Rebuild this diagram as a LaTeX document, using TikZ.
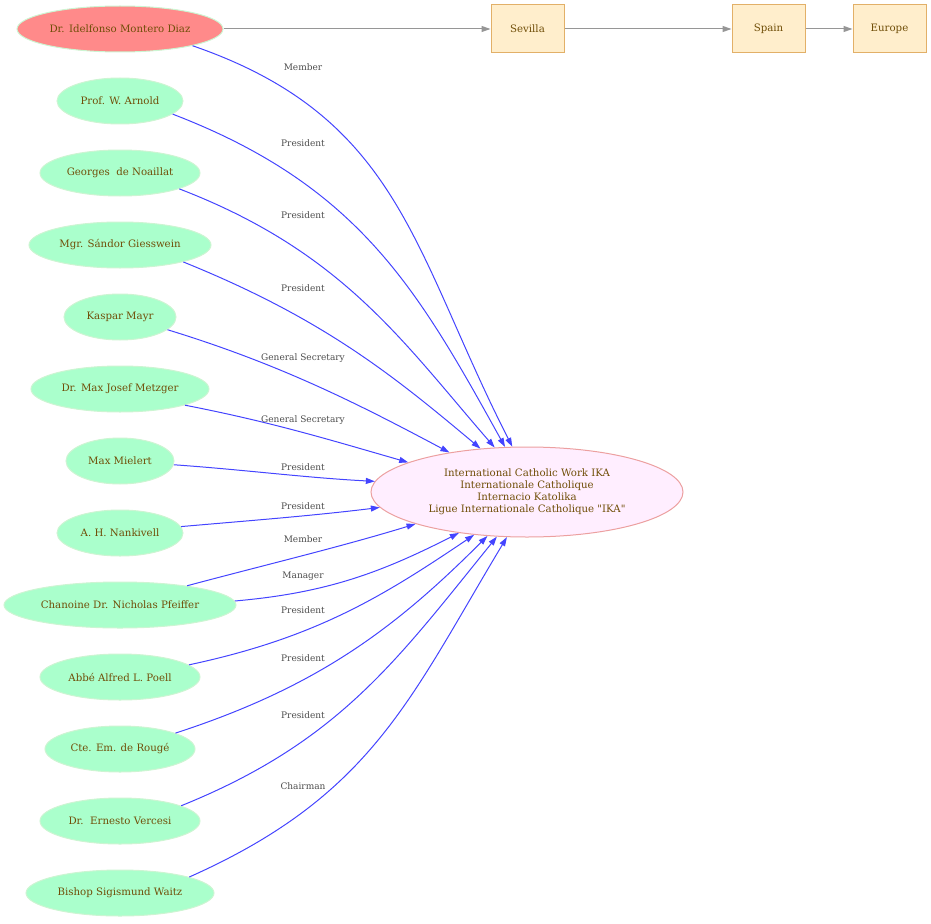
\documentclass[tikz,border=0pt]{standalone}
\usepackage{fontspec}
\setmainfont{DejaVu Serif}
\usepackage{tikz}
\usetikzlibrary{shapes,arrows.meta}
\definecolor{mint}{RGB}{170,255,204}
\definecolor{mintline}{RGB}{204,245,210}
\definecolor{salmon}{RGB}{255,138,138}
\definecolor{lilac}{RGB}{255,238,255}
\definecolor{lilacline}{RGB}{236,160,160}
\definecolor{cream}{RGB}{255,238,204}
\definecolor{creamline}{RGB}{226,176,104}
\definecolor{brown}{RGB}{112,78,8}
\definecolor{relblue}{RGB}{68,68,255}
\definecolor{geogray}{RGB}{150,150,150}
\tikzstyle{person}=[ellipse,draw=mintline,line width=1pt,fill=mint,text=brown,minimum height=46pt,inner sep=0pt,font=\fontsize{10.2}{12}\selectfont]
\tikzstyle{founder}=[person,fill=salmon]
\tikzstyle{org}=[ellipse,draw=lilacline,line width=1pt,fill=lilac,text=brown,minimum width=312pt,minimum height=90pt,inner sep=0pt,align=center,font=\fontsize{10.2}{12}\selectfont]
\tikzstyle{place}=[rectangle,draw=creamline,line width=1pt,fill=cream,text=brown,minimum width=73pt,minimum height=48pt,inner sep=0pt,font=\fontsize{10.2}{12}\selectfont]
\tikzstyle{rel}=[draw=relblue,line width=1pt,-{Triangle[length=9pt,width=6pt]}]
\tikzstyle{geo}=[draw=geogray,line width=1pt,-{Triangle[length=9pt,width=6pt]}]
\tikzstyle{lbl}=[text=black!70,inner sep=0pt,font=\fontsize{9}{10}\selectfont]

\begin{document}
\begin{tikzpicture}[x=1pt,y=-1pt]
    \useasboundingbox (0,0) rectangle (931,923);
    % people
    \node[founder,minimum width=206pt] (montero) at (120,29) {Dr. Idelfonso Montero Diaz};
    \node[person,minimum width=126pt] (arnold) at (120,101) {Prof. W. Arnold};
    \node[person,minimum width=160pt] (noaillat) at (120,173) {Georges\ \ de Noaillat};
    \node[person,minimum width=182pt] (giesswein) at (120,245) {Mgr. Sándor Giesswein};
    \node[person,minimum width=112pt] (mayr) at (120,317) {Kaspar Mayr};
    \node[person,minimum width=178pt] (metzger) at (120,389) {Dr. Max Josef Metzger};
    \node[person,minimum width=108pt] (mielert) at (120,461) {Max Mielert};
    \node[person,minimum width=126pt] (nankivell) at (120,533) {A. H. Nankivell};
    \node[person,minimum width=232pt] (pfeiffer) at (120,605) {Chanoine Dr. Nicholas Pfeiffer};
    \node[person,minimum width=160pt] (poell) at (120,677) {Abbé Alfred L. Poell};
    \node[person,minimum width=150pt] (rouge) at (120,749) {Cte. Em. de Rougé};
    \node[person,minimum width=160pt] (vercesi) at (120,821) {Dr.\ \ Ernesto Vercesi};
    \node[person,minimum width=188pt] (waitz) at (120,893) {Bishop Sigismund Waitz};
    % organisation
    \node[org] (ika) at (527,492) {International Catholic Work IKA\\Internationale Catholique\\Internacio Katolika\\Ligue Internationale Catholique \textquotedbl IKA\textquotedbl};
    % places
    \node[place] (sevilla) at (527.5,29) {Sevilla};
    \node[place] (spain) at (768.5,29) {Spain};
    \node[place] (europe) at (889.5,29) {Europe};
    \draw[geo] (montero) -- (sevilla);
    \draw[geo] (sevilla) -- (spain);
    \draw[geo] (spain) -- (europe);
    % roles
    \draw[rel] (montero.-13) to[out=-19,in=117,out distance=220pt,in distance=220pt] (ika.108);
    \draw[rel] (arnold.-14) to[out=-21,in=119,out distance=200pt,in distance=180pt] (ika.116);
    \draw[rel] (noaillat.-15) to[out=-21,in=131,out distance=175pt,in distance=140pt] (ika.126);
    \draw[rel] (giesswein.-15) to[out=-22,in=140,out distance=150pt,in distance=115pt] (ika.137);
    \draw[rel] (mayr.-15) to[out=-17,in=152,out distance=120pt,in distance=100pt] (ika.153);
    \draw[rel] (metzger.-14) to[out=-11,in=164,out distance=90pt,in distance=80pt] (ika.166);
    \draw[rel] (mielert.-4) to[out=-4,in=177,out distance=70pt,in distance=70pt] (ika.176);
    \draw[rel] (nankivell.6) to[out=5,in=187,out distance=70pt,in distance=70pt] (ika.186);
    \draw[rel] (pfeiffer.16) to[out=15,in=197,out distance=80pt,in distance=80pt] (ika.196);
    \draw[rel] (pfeiffer.2) to[out=5,in=207,out distance=90pt,in distance=90pt] (ika.211);
    \draw[rel] (poell.10) to[out=12,in=214,out distance=130pt,in distance=110pt] (ika.219);
    \draw[rel] (rouge.16) to[out=18,in=225,out distance=150pt,in distance=130pt] (ika.228);
    \draw[rel] (vercesi.14) to[out=22,in=231,out distance=170pt,in distance=160pt] (ika.236);
    \draw[rel] (waitz.13) to[out=24,in=239,out distance=200pt,in distance=190pt] (ika.246);
    % role labels
    \node[lbl] (lmontero) at (303,67) {Member};
    \node[lbl] (larnold) at (303,143) {President};
    \node[lbl] (lnoaillat) at (303,215) {President};
    \node[lbl] (lgiesswein) at (303,288) {President};
    \node[lbl] (lmayr) at (303,358) {General Secretary};
    \node[lbl] (lmetzger) at (303,420) {General Secretary};
    \node[lbl] (lmielert) at (303,467) {President};
    \node[lbl] (lnankivell) at (303,506) {President};
    \node[lbl] (lpfeiffer) at (303,539) {Member};
    \node[lbl] (lpfeiffer2) at (303,576) {Manager};
    \node[lbl] (lpoell) at (303,610) {President};
    \node[lbl] (lrouge) at (303,658) {President};
    \node[lbl] (lvercesi) at (303,715) {President};
    \node[lbl] (lwaitz) at (303,786) {Chairman};
\end{tikzpicture}
\end{document}
